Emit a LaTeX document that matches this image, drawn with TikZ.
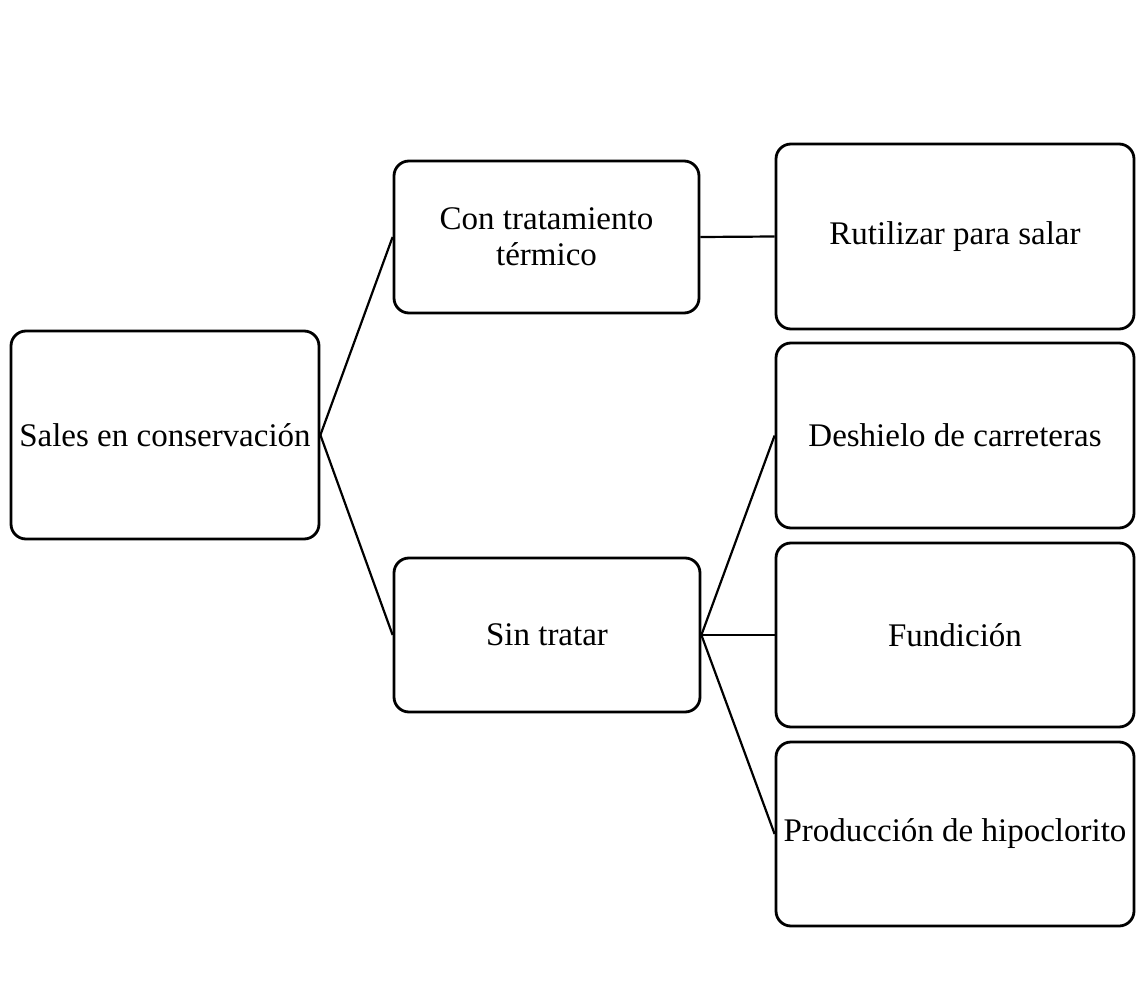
\documentclass[tikz,border=0pt]{standalone}
\usepackage{fontspec}
\setmainfont{Liberation Serif}
\begin{document}
\begin{tikzpicture}[x=1pt,y=-1pt,
  box/.style={draw=black, line width=2.8pt, rounded corners=15pt, fill=white,
    inner sep=0pt, align=center, font=\fontsize{33}{36}\selectfont},
  conn/.style={draw=black, line width=2.2pt}]
\useasboundingbox (0,0) rectangle (1136,982);
\fill[white] (0,0) rectangle (1136,982);
\node[box, minimum width=308pt, minimum height=208pt] (sales) at (165,435) {Sales en conservación};
\node[box, minimum width=305pt, minimum height=152pt] (con) at (546.5,237) {Con tratamiento\\térmico};
\node[box, minimum width=306pt, minimum height=154pt] (sin) at (547,635) {Sin tratar};
\node[box, minimum width=358pt, minimum height=185pt] (r1) at (955,236.5) {Rutilizar para salar};
\node[box, minimum width=358pt, minimum height=185pt] (r2) at (955,435.5) {Deshielo de carreteras};
\node[box, minimum width=358pt, minimum height=184pt] (r3) at (955,635) {Fundición};
\node[box, minimum width=358pt, minimum height=184pt] (r4) at (955,834) {Producción de hipoclorito};
\draw[conn] (sales.east) -- (con.west);
\draw[conn] (sales.east) -- (sin.west);
\draw[conn] (con.east) -- (r1.west);
\draw[conn] (sin.east) -- (r2.west);
\draw[conn] (sin.east) -- (r3.west);
\draw[conn] (sin.east) -- (r4.west);
\end{tikzpicture}
\end{document}
